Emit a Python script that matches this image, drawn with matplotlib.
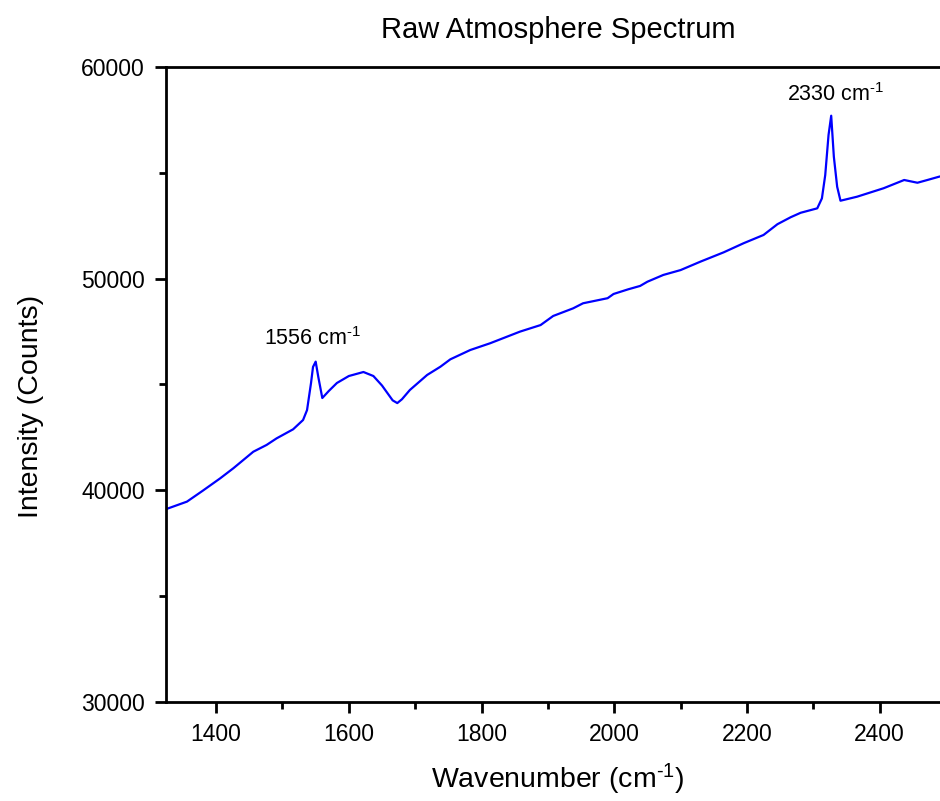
import numpy as np
import matplotlib
matplotlib.use('Agg')
import matplotlib.pyplot as plt
from matplotlib.ticker import MultipleLocator

plt.rcParams['font.family'] = ['Liberation Sans', 'DejaVu Sans']
plt.rcParams['mathtext.default'] = 'regular'

# spectrum (wavenumber in cm-1, intensity in counts)
wavenumber = [1324, 1356, 1380, 1406, 1426, 1456, 1476, 1491, 1516, 1531,
              1537, 1543, 1546, 1550, 1554, 1560, 1570, 1582, 1600, 1622,
              1637, 1650, 1658, 1666, 1673, 1680, 1692, 1718, 1738, 1753,
              1783, 1813, 1858, 1889, 1908, 1938, 1953, 1990, 1999, 2021,
              2039, 2050, 2074, 2100, 2130, 2165, 2195, 2225, 2246, 2266,
              2281, 2306, 2313, 2318, 2323, 2327, 2331, 2336, 2341, 2366,
              2406, 2437, 2457, 2472, 2490, 2510]
intensity = [39100, 39460, 39980, 40560, 41040, 41820, 42140, 42450, 42880, 43320,
             43790, 45070, 45830, 46080, 45350, 44360, 44700, 45070, 45400, 45590,
             45400, 44950, 44600, 44250, 44120, 44300, 44740, 45450, 45840, 46190,
             46630, 46950, 47500, 47810, 48240, 48600, 48840, 49080, 49280, 49500,
             49660, 49860, 50180, 50410, 50810, 51250, 51680, 52070, 52580, 52910,
             53120, 53330, 53800, 54900, 56800, 57710, 55770, 54350, 53690, 53880,
             54280, 54670, 54540, 54670, 54830, 54950]

peak_labels = ['1556 cm$^{\u20101}$', '2330 cm$^{\u20101}$']
peak_pos = [(1546, 47150), (2334, 58690)]

fig = plt.figure(figsize=(9.4, 8.01), dpi=100)
ax = fig.add_axes([0.1763, 0.124, 0.835, 0.792])

ax.plot(wavenumber, intensity, color='#0000ff', lw=1.6)

for lab, (px, py) in zip(peak_labels, peak_pos):
    ax.text(px, py, lab, fontsize=15.5, ha='center', va='center')

ax.set_xlim(1324, 2507)
ax.set_ylim(30000, 60000)
ax.xaxis.set_major_locator(MultipleLocator(200))
ax.xaxis.set_minor_locator(MultipleLocator(100))
ax.yaxis.set_major_locator(MultipleLocator(10000))
ax.yaxis.set_minor_locator(MultipleLocator(5000))
ax.tick_params(which='major', direction='out', length=8, width=2, labelsize=16.5, pad=7)
ax.tick_params(which='minor', direction='out', length=5, width=2)
for s in ['left', 'bottom', 'top']:
    ax.spines[s].set_linewidth(2)
ax.spines['right'].set_visible(False)

ax.set_xlabel('Wavenumber (cm$^{\u20101}$)', fontsize=20.5, labelpad=12)
ax.set_ylabel('Intensity (Counts)', fontsize=20.5)
ax.yaxis.set_label_coords(-0.155, 0.465)
ax.set_title('Raw Atmosphere Spectrum', fontsize=21, pad=21)

fig.savefig('out.png', dpi=100)
